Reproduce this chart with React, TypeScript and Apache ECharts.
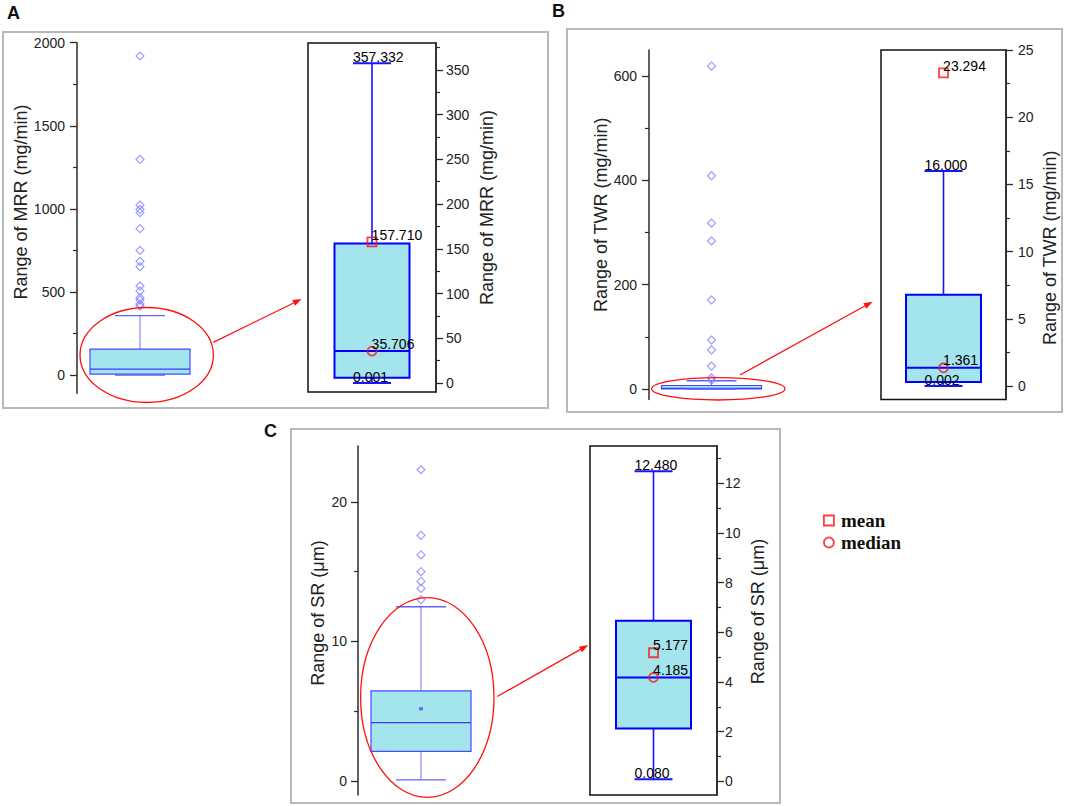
import React, { useEffect, useRef } from 'react';
import * as echarts from 'echarts';

// ---------- DATA ----------
// box stats: [min (lower whisker), Q1, median, Q3, max (upper whisker)]
const mrrCategory = ['MRR'];
const mrrBox = [0.001, 6, 35.706, 156, 357.332];
const mrrMean = 157.71;
const mrrOutliers = [1920, 1298, 1023, 997, 977, 881, 750, 684, 652, 536, 506, 465, 451, 427, 415];

const twrCategory = ['TWR'];
const twrBox = [0.002, 0.3, 1.361, 6.8, 16.0];
const twrMean = 23.294;
const twrOutliers = [619, 409, 318, 284, 171, 94, 75, 44, 22, 17];

const srCategory = ['SR'];
const srBox = [0.08, 2.13, 4.185, 6.46, 12.48];
const srMean = 5.177;
const srOutliers = [22.3, 17.6, 16.2, 15.0, 14.3, 13.8, 13.0];

// tick values
const mrrMainTicks = [0, 500, 1000, 1500, 2000];
const mrrMainMinor = [250, 750, 1250, 1750];
const mrrZoomTicks = [0, 50, 100, 150, 200, 250, 300, 350];
const mrrZoomMinor = [25, 75, 125, 175, 225, 275, 325, 375];
const twrMainTicks = [0, 200, 400, 600];
const twrMainMinor = [100, 300, 500];
const twrZoomTicks = [0, 5, 10, 15, 20, 25];
const twrZoomMinor = [2.5, 7.5, 12.5, 17.5, 22.5];
const srMainTicks = [0, 10, 20];
const srMainMinor = [5, 15];
const srZoomTicks = [0, 2, 4, 6, 8, 10, 12];
const srZoomMinor = [1, 3, 5, 7, 9, 11, 13];

const legendNames = ['mean', 'median'];

// ---------- STYLE ----------
const FONT = "'Liberation Sans', Arial, Helvetica, sans-serif";
const SERIF = "'Liberation Serif', 'Times New Roman', serif";
const FILL = '#a4e4ec';
const RED = '#ff1010';

const mainStyle = {
  boxHalf: 50, capHalf: 25,
  boxStroke: '#4848ff', boxWidth: 1.2,
  whisker: '#7070ff', whiskerWidth: 1,
  cap: '#6060ff', capWidth: 1.4,
  median: '#3a3aff', medianWidth: 1.3,
  labels: false,
};
const zoomStyle = {
  boxHalf: 37.5, capHalf: 19,
  boxStroke: '#0000ff', boxWidth: 2,
  whisker: '#1414ff', whiskerWidth: 1.6,
  cap: '#1414ff', capWidth: 2,
  median: '#0000ff', medianWidth: 2,
  labels: true,
};

function boxSeries(grid: number, cats: string[], stats: number[], st: any) {
  return {
    type: 'custom',
    xAxisIndex: grid,
    yAxisIndex: grid * 2,
    z: 2,
    data: cats.map((_c, i) => [i, ...stats]),
    encode: { x: 0, y: [1, 2, 3, 4, 5] },
    renderItem: (_params: any, api: any) => {
      const xi = api.value(0);
      const v = [1, 2, 3, 4, 5].map((d) => api.value(d));
      const p = v.map((val) => api.coord([xi, val]));
      const cx = p[0][0];
      const bw = st.boxHalf;
      const cw = st.capHalf;
      const children: any[] = [
        { type: 'line', shape: { x1: cx, y1: p[3][1], x2: cx, y2: p[4][1] }, style: { stroke: st.whisker, lineWidth: st.whiskerWidth } },
        { type: 'line', shape: { x1: cx, y1: p[0][1], x2: cx, y2: p[1][1] }, style: { stroke: st.whisker, lineWidth: st.whiskerWidth } },
        { type: 'rect', shape: { x: cx - bw, y: p[3][1], width: 2 * bw, height: p[1][1] - p[3][1] }, style: { fill: FILL, stroke: st.boxStroke, lineWidth: st.boxWidth } },
        { type: 'line', shape: { x1: cx - bw, y1: p[2][1], x2: cx + bw, y2: p[2][1] }, style: { stroke: st.median, lineWidth: st.medianWidth } },
        { type: 'line', shape: { x1: cx - cw, y1: p[4][1], x2: cx + cw, y2: p[4][1] }, style: { stroke: st.cap, lineWidth: st.capWidth } },
        { type: 'line', shape: { x1: cx - cw, y1: p[0][1], x2: cx + cw, y2: p[0][1] }, style: { stroke: st.cap, lineWidth: st.capWidth } },
      ];
      if (st.labels) {
        [0, 4].forEach((k) => {
          children.push({
            type: 'text',
            x: cx - cw,
            y: p[k][1] + 1,
            style: { text: v[k].toFixed(3), fill: '#000', fontSize: 14, fontFamily: FONT, align: 'left', verticalAlign: 'bottom' },
          });
        });
      }
      return { type: 'group', children };
    },
  };
}

function outlierSeries(grid: number, cat: string, vals: number[]) {
  return {
    type: 'scatter', name: 'outliers', xAxisIndex: grid, yAxisIndex: grid * 2, z: 3,
    symbol: 'diamond', symbolSize: 8,
    itemStyle: { color: 'transparent', borderColor: '#8484ff', borderWidth: 1.2 },
    data: vals.map((v) => [cat, v]),
  };
}

function markSeries(grid: number, cat: string, name: string, value: number) {
  return {
    type: 'scatter', name, xAxisIndex: grid, yAxisIndex: grid * 2, z: 4,
    symbol: name === 'mean' ? 'rect' : 'circle', symbolSize: 9,
    itemStyle: { color: 'transparent', borderColor: RED, borderWidth: 1.8 },
    label: {
      show: true, position: [5, 5], align: 'left', verticalAlign: 'bottom',
      formatter: (pp: any) => Number(pp.value[1]).toFixed(3),
      fontSize: 14, fontFamily: FONT, color: '#000',
      textBorderWidth: 0, textBorderColor: 'transparent', opacity: 1,
    },
    data: [[cat, value]],
  };
}

function yAxes(grid: number, min: number, max: number, pos: string, ticks: number[], minor: number[], margin: number, name: string, nameGap: number, pad: number[]) {
  return [
    {
      gridIndex: grid, type: 'value', min, max, position: pos,
      axisLine: { show: true, onZero: false, lineStyle: { color: '#2b2b2b', width: 1.5 } },
      axisTick: { show: true, inside: false, length: 7, customValues: ticks, lineStyle: { color: '#2b2b2b', width: 1.3 } },
      axisLabel: { show: true, customValues: ticks, margin, fontSize: 14, color: '#222', fontFamily: FONT, formatter: (val: number) => String(val) },
      splitLine: { show: false },
      name, nameLocation: 'middle', nameGap,
      nameTextStyle: { fontSize: 18, color: '#222', fontFamily: FONT, padding: pad },
    },
    {
      gridIndex: grid, type: 'value', min, max, position: pos,
      axisLine: { show: false },
      axisTick: { show: true, inside: false, length: 4, customValues: minor, lineStyle: { color: '#2b2b2b', width: 1.2 } },
      axisLabel: { show: false },
      splitLine: { show: false },
    },
  ];
}

function arrow(x1: number, y1: number, x2: number, y2: number) {
  const dx = x2 - x1, dy = y2 - y1;
  const len = Math.sqrt(dx * dx + dy * dy);
  const ux = dx / len, uy = dy / len;
  const bx = x2 - ux * 9, by = y2 - uy * 9;
  const px = -uy * 3.2, py = ux * 3.2;
  return [
    { type: 'line', shape: { x1, y1, x2: bx, y2: by }, style: { stroke: RED, lineWidth: 1.3 } },
    { type: 'polygon', shape: { points: [[x2, y2], [bx + px, by + py], [bx - px, by - py]] }, style: { fill: RED } },
  ];
}

export default function App() {
  const ref = useRef<HTMLDivElement>(null);
  useEffect(() => {
    if (!ref.current) return;
    const chart = echarts.init(ref.current, null, { renderer: 'svg' });
    const gridBase = { containLabel: false, outerBoundsMode: 'none' };
    const zoomGrid = { show: true, borderColor: '#111', borderWidth: 1.5, backgroundColor: 'transparent' };
    const grids = [
      { ...gridBase, left: 77, top: 42.7, width: 126, height: 350.6 },
      { ...gridBase, ...zoomGrid, left: 308, top: 43, width: 128, height: 349 },
      { ...gridBase, left: 649, top: 50, width: 125, height: 349.5 },
      { ...gridBase, ...zoomGrid, left: 881, top: 50, width: 125, height: 349.5 },
      { ...gridBase, left: 358, top: 446, width: 126, height: 349 },
      { ...gridBase, ...zoomGrid, left: 590, top: 446, width: 127, height: 349 },
    ];
    const cats = [mrrCategory, mrrCategory, twrCategory, twrCategory, srCategory, srCategory];
    const xAxes = cats.map((c, i) => ({ gridIndex: i, type: 'category', data: c, show: false, boundaryGap: true }));
    const yAxis = [
      ...yAxes(0, -110, 2000, 'left', mrrMainTicks, mrrMainMinor, 12, 'Range of MRR (mg/min)', 46, [0, 0, 0, 32]),
      ...yAxes(1, -10, 380, 'right', mrrZoomTicks, mrrZoomMinor, 10, 'Range of MRR (mg/min)', 42, [0, 0, 0, 20]),
      ...yAxes(2, -20, 650, 'left', twrMainTicks, twrMainMinor, 12, 'Range of TWR (mg/min)', 37, [0, 0, 0, 20]),
      ...yAxes(3, -1, 25, 'right', twrZoomTicks, twrZoomMinor, 12, 'Range of TWR (mg/min)', 35, [0, 46, 0, 0]),
      ...yAxes(4, -1, 24, 'left', srMainTicks, srMainMinor, 11, 'Range of SR (μm)', 31, [0, 0, 0, 15]),
      ...yAxes(5, -0.55, 13.5, 'right', srZoomTicks, srZoomMinor, 8, 'Range of SR (μm)', 32, [0, 0, 0, 18]),
    ];
    const series: any[] = [
      boxSeries(0, mrrCategory, mrrBox, mainStyle),
      outlierSeries(0, mrrCategory[0], mrrOutliers),
      boxSeries(1, mrrCategory, mrrBox, zoomStyle),
      markSeries(1, mrrCategory[0], 'mean', mrrMean),
      markSeries(1, mrrCategory[0], 'median', mrrBox[2]),
      boxSeries(2, twrCategory, twrBox, mainStyle),
      outlierSeries(2, twrCategory[0], twrOutliers),
      boxSeries(3, twrCategory, twrBox, zoomStyle),
      markSeries(3, twrCategory[0], 'mean', twrMean),
      markSeries(3, twrCategory[0], 'median', twrBox[2]),
      boxSeries(4, srCategory, srBox, mainStyle),
      outlierSeries(4, srCategory[0], srOutliers),
      {
        type: 'scatter', name: 'mainMean', xAxisIndex: 4, yAxisIndex: 8, z: 4,
        symbol: 'rect', symbolSize: [4, 3], itemStyle: { color: '#4a4aff' },
        data: [[srCategory[0], srMean]],
      },
      boxSeries(5, srCategory, srBox, zoomStyle),
      markSeries(5, srCategory[0], 'mean', srMean),
      markSeries(5, srCategory[0], 'median', srBox[2]),
    ];
    const border = { fill: 'none', stroke: '#b8b8b8', lineWidth: 2 };
    const letter = (t: string, x: number, y: number) => ({
      type: 'text', x, y, style: { text: t, fontSize: 18, fontWeight: 'bold', fontFamily: FONT, fill: '#111', align: 'left', verticalAlign: 'middle' },
    });
    const ell = (cx: number, cy: number, rx: number, ry: number) => ({
      type: 'ellipse', shape: { cx, cy, rx, ry }, style: { fill: 'none', stroke: RED, lineWidth: 1.3 }, z: 10,
    });
    const graphic: any[] = [
      { type: 'rect', shape: { x: 3, y: 32, width: 545, height: 376 }, style: border, z: -1 },
      { type: 'rect', shape: { x: 567, y: 29, width: 495, height: 383 }, style: border, z: -1 },
      { type: 'rect', shape: { x: 291, y: 429, width: 489, height: 374 }, style: border, z: -1 },
      letter('A', 7, 13),
      letter('B', 552, 11),
      letter('C', 264, 431),
      ell(146.7, 355, 66.7, 47.5),
      ell(718.3, 388.8, 66.7, 11.2),
      ell(427.3, 697.5, 66.7, 99.8),
      ...arrow(213.3, 342.3, 301.7, 299),
      ...arrow(740, 375, 872.7, 301.7),
      ...arrow(497.3, 696.5, 588.3, 645),
    ];
    chart.setOption({
      animation: false,
      backgroundColor: '#ffffff',
      grid: grids,
      xAxis: xAxes,
      yAxis,
      series,
      graphic,
      legend: {
        show: true,
        data: [
          { name: legendNames[0], icon: 'rect', itemStyle: { color: 'transparent', borderColor: RED, borderWidth: 1.8 } },
          { name: legendNames[1], icon: 'circle', itemStyle: { color: 'transparent', borderColor: RED, borderWidth: 1.8 } },
        ],
        orient: 'vertical', left: 818, top: 506,
        itemWidth: 10, itemHeight: 10, itemGap: 3, selectedMode: false,
        textStyle: { fontFamily: SERIF, fontWeight: 'bold', fontSize: 19, color: '#111', padding: [0, 0, 0, 2] },
      },
    });
    return () => chart.dispose();
  }, []);
  return (
    <div
      ref={ref}
      style={{ position: 'absolute', left: 0, top: 0, width: 1065, height: 806, background: '#fff' }}
    />
  );
}
